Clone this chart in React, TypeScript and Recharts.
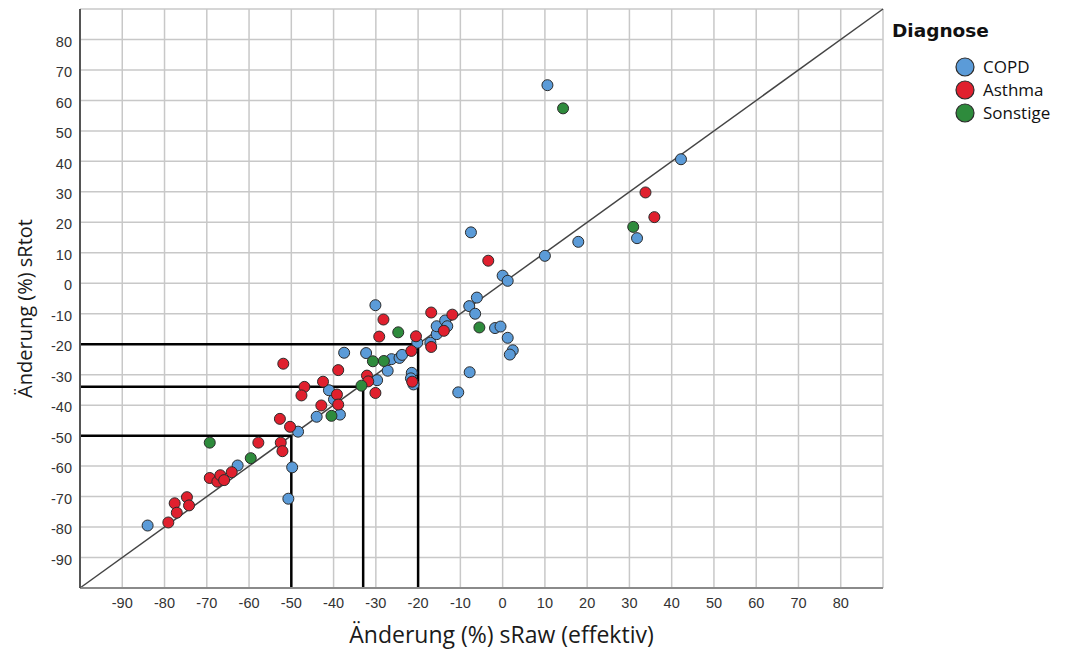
import React from "react";
import {
  ScatterChart,
  Scatter,
  XAxis,
  YAxis,
  CartesianGrid,
  ReferenceLine,
} from "recharts";

// [sRaw change %, sRtot change %]
const COPD: [number, number][] = [
  [-84, -79.5], [-62.7, -59.8], [-48.4, -48.7], [-49.8, -60.4], [-50.7, -70.7],
  [-44.0, -43.8], [-38.5, -43.1], [-39.9, -38.1], [-41.1, -35.1], [-37.5, -22.8],
  [-32.3, -22.9], [-30.1, -7.2], [-29.7, -31.8], [-27.2, -28.7], [-26.3, -24.9],
  [-24.4, -24.5], [-23.8, -23.5], [-21.5, -29.4], [-21.7, -31.2], [-21.1, -33.2],
  [-20.2, -19.5], [-17.1, -19.5], [-15.6, -16.7], [-15.6, -14.1], [-13.6, -12.2],
  [-13.1, -14.1], [-7.9, -7.5], [-6.1, -4.7], [-6.5, -10.0], [-7.5, 16.7],
  [0.0, 2.5], [1.2, 0.8], [10.0, 9.0], [17.9, 13.6], [31.8, 14.8],
  [42.2, 40.7], [10.6, 65.0], [-1.8, -14.7], [-0.5, -14.2], [1.2, -17.9],
  [2.4, -22.0], [1.7, -23.4], [-7.8, -29.2], [-10.5, -35.8],
];

const ASTHMA: [number, number][] = [
  [-79.1, -78.5], [-77.6, -72.2], [-77.1, -75.3], [-74.7, -70.2], [-74.2, -72.9],
  [-69.3, -63.9], [-67.5, -65.1], [-66.8, -63.0], [-65.9, -64.6], [-64.1, -62.0],
  [-57.8, -52.3], [-52.7, -44.5], [-50.3, -47.1], [-52.5, -52.3], [-52.1, -55.1],
  [-42.9, -40.1], [-51.9, -26.4], [-38.9, -28.5], [-42.5, -32.3], [-46.9, -34.0],
  [-47.6, -36.8], [-39.2, -36.5], [-38.9, -39.8], [-32.1, -30.3], [-31.8, -32.2],
  [-30.1, -36.0], [-28.2, -11.9], [-29.2, -17.5], [-16.9, -9.6], [-20.5, -17.4],
  [-21.6, -22.2], [-16.9, -20.9], [-21.4, -32.3], [-11.9, -10.3], [-13.9, -15.6],
  [-3.4, 7.4], [33.8, 29.8], [35.9, 21.7],
];

const SONSTIGE: [number, number][] = [
  [-69.3, -52.3], [-59.6, -57.4], [-40.5, -43.5], [-33.4, -33.6], [-30.7, -25.6],
  [-28.1, -25.5], [-24.7, -16.1], [-5.5, -14.5], [30.9, 18.5], [14.3, 57.4],
];

const X_TICKS = [-90, -80, -70, -60, -50, -40, -30, -20, -10, 0, 10, 20, 30, 40, 50, 60, 70, 80];
const Y_TICKS = [-90, -80, -70, -60, -50, -40, -30, -20, -10, 0, 10, 20, 30, 40, 50, 60, 70, 80];
const DOMAIN: [number, number] = [-100, 90];

// cut-off markers drawn from the axes to the diagonal
const CUTOFFS = [
  { x: -20, y: -20 },
  { x: -33, y: -34 },
  { x: -50, y: -50 },
];

const GROUPS = [
  { name: "COPD", color: "#5b9bd8", points: COPD },
  { name: "Asthma", color: "#e0202e", points: ASTHMA },
  { name: "Sonstige", color: "#2e8b3c", points: SONSTIGE },
];

const toRows = (pts: [number, number][]) => pts.map(([x, y]) => ({ x, y }));

const makeDot = (color: string) => (props: any) => (
  <circle cx={props.cx} cy={props.cy} r={5.5} fill={color} stroke="#2b2b2b" strokeWidth={1} />
);

const tickStyle = { fill: "#333", fontSize: 14.5, fontFamily: "'Liberation Sans', Arial, sans-serif" };
const titleFont = "'Open Sans', 'Noto Sans', sans-serif";

function LegendBox() {
  return (
    <div style={{ position: "absolute", left: 892, top: 20, width: 170, fontFamily: titleFont }}>
      <div
        style={{
          fontFamily: "'DejaVu Sans', sans-serif",
          fontWeight: 700,
          fontSize: 18.5,
          lineHeight: "22px",
          color: "#111",
          marginBottom: 13,
        }}
      >
        Diagnose
      </div>
      {GROUPS.map((g) => (
        <div key={g.name} style={{ display: "flex", alignItems: "center", height: 23, marginLeft: 62 }}>
          <svg width={22} height={22}>
            <circle cx={11} cy={11} r={9} fill={g.color} stroke="#2b2b2b" strokeWidth={1.2} />
          </svg>
          <span style={{ fontSize: 17, color: "#111", marginLeft: 7 }}>{g.name}</span>
        </div>
      ))}
    </div>
  );
}

export default function App() {
  return (
    <div style={{ position: "absolute", left: 0, top: 0, width: 1065, height: 650, background: "#fff" }}>
      <ScatterChart width={1065} height={650} margin={{ top: 9, right: 182, bottom: 0, left: 0 }}>
        <CartesianGrid stroke="#c8c8c8" strokeWidth={1.5} />
        <XAxis
          type="number"
          dataKey="x"
          domain={DOMAIN}
          ticks={X_TICKS}
          allowDataOverflow
          height={62}
          tickLine={false}
          tickMargin={4}
          axisLine={{ stroke: "#8a8a8a", strokeWidth: 2 }}
          tick={tickStyle}
          label={({ viewBox }: any) => (
            <text
              x={viewBox.x + viewBox.width / 2 + 20}
              y={viewBox.y + 55}
              textAnchor="middle"
              fontFamily={titleFont}
              fontSize={23}
              fill="#1a1a1a"
            >
              Änderung (%) sRaw (effektiv)
            </text>
          )}
        />
        <YAxis
          type="number"
          dataKey="y"
          domain={DOMAIN}
          ticks={Y_TICKS}
          allowDataOverflow
          width={80}
          tickLine={false}
          axisLine={{ stroke: "#555", strokeWidth: 2 }}
          tick={{ ...tickStyle, dy: 2 }}
          label={({ viewBox }: any) => {
            const cx = 32;
            const cy = viewBox.y + viewBox.height / 2 + 10;
            return (
              <text
                x={cx}
                y={cy}
                transform={`rotate(-90 ${cx} ${cy})`}
                textAnchor="middle"
                fontFamily={titleFont}
                fontSize={20}
                fill="#1a1a1a"
              >
                Änderung (%) sRtot
              </text>
            );
          }}
        />
        <ReferenceLine
          segment={[{ x: DOMAIN[0], y: DOMAIN[0] }, { x: DOMAIN[1], y: DOMAIN[1] }]}
          stroke="#444"
          strokeWidth={1.5}
        />
        {CUTOFFS.map((c) => (
          <ReferenceLine
            key={`h${c.x}`}
            segment={[{ x: DOMAIN[0], y: c.y }, { x: c.x, y: c.y }]}
            stroke="#000"
            strokeWidth={2.5}
          />
        ))}
        {CUTOFFS.map((c) => (
          <ReferenceLine
            key={`v${c.x}`}
            segment={[{ x: c.x, y: DOMAIN[0] }, { x: c.x, y: c.y }]}
            stroke="#000"
            strokeWidth={2.5}
          />
        ))}
        {GROUPS.map((g) => (
          <Scatter
            key={g.name}
            name={g.name}
            data={toRows(g.points)}
            fill={g.color}
            shape={makeDot(g.color)}
            isAnimationActive={false}
          />
        ))}
      </ScatterChart>
      <LegendBox />
    </div>
  );
}
